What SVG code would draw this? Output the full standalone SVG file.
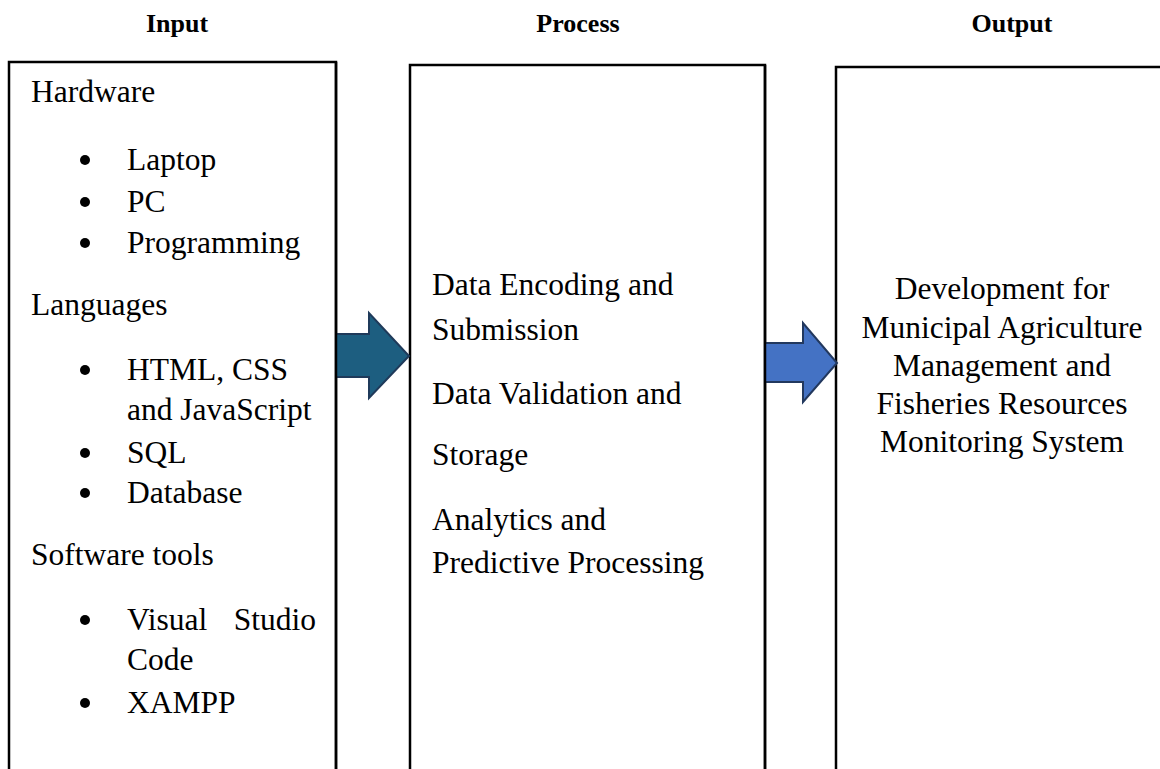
<svg xmlns="http://www.w3.org/2000/svg" width="1160" height="769" viewBox="0 0 1160 769">
<style>
.hd{font-family:"Liberation Serif","Times New Roman",serif;font-weight:bold;font-size:26px;fill:#000;text-anchor:middle}
.t{font-family:"Liberation Serif","Times New Roman",serif;font-size:31.5px;fill:#000}
.c{text-anchor:middle}
.box{fill:#fff;stroke:#000;stroke-width:2.5}
.bul{fill:#000}
</style>
<rect width="1160" height="769" fill="#fff"/>
<text class="hd" x="177" y="32">Input</text>
<text class="hd" x="578" y="32">Process</text>
<text class="hd" x="1012" y="32">Output</text>

<g id="input">
<rect class="box" x="9" y="62" width="327" height="740"/>
<text class="t" x="31" y="102">Hardware</text>
<circle class="bul" cx="85" cy="160" r="5"/><text class="t" x="127" y="170">Laptop</text>
<circle class="bul" cx="85" cy="202" r="5"/><text class="t" x="127" y="212">PC</text>
<circle class="bul" cx="85" cy="243" r="5"/><text class="t" x="127" y="253">Programming</text>
<text class="t" x="31" y="315">Languages</text>
<circle class="bul" cx="85" cy="370" r="5"/><text class="t" x="127" y="380">HTML, CSS</text>
<text class="t" x="127" y="420">and JavaScript</text>
<circle class="bul" cx="85" cy="453" r="5"/><text class="t" x="127" y="463">SQL</text>
<circle class="bul" cx="85" cy="493" r="5"/><text class="t" x="127" y="503">Database</text>
<text class="t" x="31" y="565">Software tools</text>
<circle class="bul" cx="85" cy="620" r="5"/><text class="t" x="127" y="630">Visual</text><text class="t" x="316" y="630" text-anchor="end">Studio</text>
<text class="t" x="127" y="670">Code</text>
<circle class="bul" cx="85" cy="703" r="5"/><text class="t" x="127" y="713">XAMPP</text>
</g>

<g id="process">
<rect class="box" x="410" y="65" width="355" height="740"/>
<text class="t" x="432" y="295">Data Encoding and</text>
<text class="t" x="432" y="340">Submission</text>
<text class="t" x="432" y="404">Data Validation and</text>
<text class="t" x="432" y="465">Storage</text>
<text class="t" x="432" y="530">Analytics and</text>
<text class="t" x="432" y="573">Predictive Processing</text>
</g>

<g id="output">
<rect class="box" x="836" y="67" width="360" height="740"/>
<text class="t c" x="1002" y="299">Development for</text>
<text class="t c" x="1002" y="338">Municipal Agriculture</text>
<text class="t c" x="1002" y="376">Management and</text>
<text class="t c" x="1002" y="414">Fisheries Resources</text>
<text class="t c" x="1002" y="452">Monitoring System</text>
</g>

<g id="connectors">
<polygon points="336,334 369,334 369,313 409,356 369,398 369,377 336,377" fill="#1d5e80" stroke="#1f3a5a" stroke-width="2" stroke-linejoin="miter"/>
<polygon points="765,343 803,343 803,323 837,363 803,402 803,382 765,382" fill="#4472c4" stroke="#22385e" stroke-width="2" stroke-linejoin="miter"/>
</g>
<line x1="336" y1="62" x2="336" y2="769" stroke="#000" stroke-width="2.5"/>
<line x1="765" y1="65" x2="765" y2="769" stroke="#000" stroke-width="2.5"/>
</svg>
